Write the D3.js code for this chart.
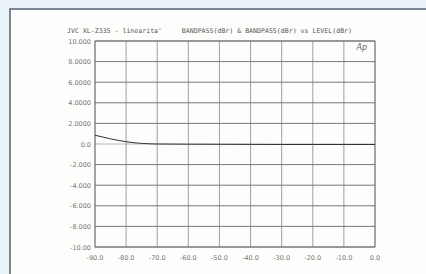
<!DOCTYPE html>
<html><head><meta charset="utf-8">
<script src="https://cdn.jsdelivr.net/npm/d3@7"></script>
<style>html,body{margin:0;padding:0;background:#e9f3f8;}svg{display:block;}</style>
</head><body>
<script>
const xTicks = [-90,-80,-70,-60,-50,-40,-30,-20,-10,0];
const xTickLabels = ["-90.0","-80.0","-70.0","-60.0","-50.0","-40.0","-30.0","-20.0","-10.0","0.0"];
const yTicks = [10,8,6,4,2,0,-2,-4,-6,-8,-10];
const yTickLabels = ["10.000","8.0000","6.0000","4.0000","2.0000","0.0","-2.000","-4.000","-6.000","-8.000","-10.00"];
const levels = [-90,-85,-80,-75,-70,-60,-50,-40,-30,-20,-10,0];
const bandpass = [0.85,0.5,0.22,0.06,0.0,-0.02,-0.03,-0.04,-0.05,-0.05,-0.05,-0.05];
const titleText = "JVC XL-Z335 - linearita'     BANDPASS(dBr) & BANDPASS(dBr) vs LEVEL(dBr)";

const W=426,H=274;
const svg=d3.select("body").append("svg").attr("width",W).attr("height",H);
svg.append("rect").attr("width",W).attr("height",H).attr("fill","#e9f3f8");
svg.append("rect").attr("x",10).attr("y",9).attr("width",W).attr("height",H)
  .attr("fill","#fdfdfb").attr("stroke","#556070").attr("stroke-width",1.5);

const x=d3.scaleLinear().domain([-90,0]).range([95,375]);
const y=d3.scaleLinear().domain([-10,10]).range([247,41]);

const g=svg.append("g");
g.selectAll("line.h").data(yTicks).join("line")
  .attr("x1",x(-90)).attr("x2",x(0)).attr("y1",d=>y(d)).attr("y2",d=>y(d))
  .attr("stroke",d=>d===0?"#aaa":"#555").attr("stroke-width",0.8);
g.selectAll("line.v").data(xTicks).join("line")
  .attr("y1",y(10)).attr("y2",y(-10)).attr("x1",d=>x(d)).attr("x2",d=>x(d))
  .attr("stroke","#777").attr("stroke-width",0.7);
g.append("rect").attr("x",x(-90)).attr("y",y(10)).attr("width",x(0)-x(-90)).attr("height",y(-10)-y(10))
  .attr("fill","none").attr("stroke","#666").attr("stroke-width",0.8);

svg.selectAll("text.yl").data(yTicks).join("text")
  .attr("x",91).attr("y",d=>y(d)+2.5).attr("text-anchor","end")
  .attr("font-family","DejaVu Sans").attr("font-size",6.5).attr("fill","#777")
  .text((d,i)=>yTickLabels[i]);
svg.selectAll("text.xl").data(xTicks).join("text")
  .attr("x",d=>x(d)).attr("y",260).attr("text-anchor","middle")
  .attr("font-family","DejaVu Sans").attr("font-size",6.5).attr("fill","#777")
  .text((d,i)=>xTickLabels[i]);

svg.append("text").attr("x",67).attr("y",33).attr("font-family","DejaVu Sans Mono")
  .attr("font-size",6.5).attr("fill","#555").attr("textLength",285).attr("lengthAdjust","spacing")
  .style("white-space","pre").text(titleText);
svg.append("text").attr("x",367).attr("y",50).attr("text-anchor","end").attr("font-family","DejaVu Sans")
  .attr("font-style","italic").attr("font-size",8).attr("fill","#666").text("Ap");

const line=d3.line().x((d,i)=>x(levels[i])).y(d=>y(d)).curve(d3.curveMonotoneX);
svg.append("path").datum(bandpass).attr("d",line).attr("fill","none").attr("stroke","#333").attr("stroke-width",1);
</script>
</body></html>
